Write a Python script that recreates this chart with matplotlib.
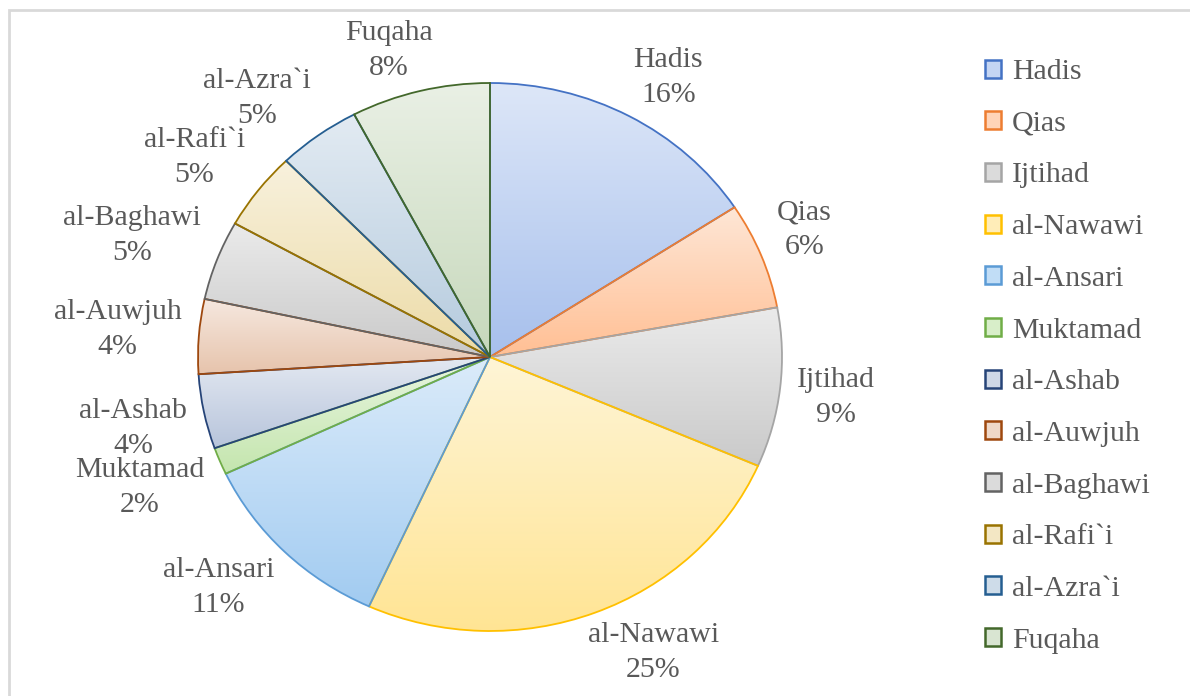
import colorsys
import numpy as np
import matplotlib
matplotlib.use("Agg")
from matplotlib import pyplot as plt
from matplotlib.colors import to_rgb
from matplotlib.patches import Patch, Rectangle

names = ["Hadis", "Qias", "Ijtihad", "al-Nawawi", "al-Ansari", "Muktamad",
         "al-Ashab", "al-Auwjuh", "al-Baghawi", "al-Rafi`i", "al-Azra`i", "Fuqaha"]
shares = [15.8, 6.3, 9.4, 25.3, 11.2, 1.6, 4.4, 4.4, 4.7, 4.6, 4.6, 7.7]
colors = ["#4472C4", "#ED7D31", "#A5A5A5", "#FFC000", "#5B9BD5", "#70AD47",
          "#264478", "#9E480E", "#636363", "#997300", "#255E91", "#43682B"]

plt.rcParams['font.family'] = ['Liberation Serif', 'DejaVu Serif']
txt_color = "#595959"
fs = 21.5


def shade(c, light):
    h, l, s = colorsys.rgb_to_hls(*to_rgb(c))
    # bright accents get a saturated gradient, the darker ones a muted one
    k = 1.25 if l > 0.4 else 0.65
    return np.array(colorsys.hls_to_rgb(h, light, min(1.0, s * k)))


fig = plt.figure(figsize=(11.9, 6.96), dpi=100)
# chart area border
fig.patches.append(Rectangle((9 / 1190, -0.1), 1.2, 1 - 10 / 696 + 0.1,
                             transform=fig.transFigure, fill=False,
                             edgecolor="#d9d9d9", linewidth=2))

# pie is slightly stretched horizontally in the reference
lim = 1.4
rx, ry = 292, 274
cx, cy = 490, 696 - 357
ax = fig.add_axes([(cx - rx * lim) / 1190, (cy - ry * lim) / 696,
                   2 * rx * lim / 1190, 2 * ry * lim / 696])

wedges, _ = ax.pie(shares, startangle=90, counterclock=False,
                   wedgeprops=dict(linewidth=1.3))
ax.set_aspect('auto')
ax.axis('off')

grad = np.linspace(0, 1, 256)[:, None, None]
for w, c in zip(wedges, colors):
    w.set_facecolor("none")
    w.set_edgecolor(c)
    w.set_zorder(3)
    verts = w.get_patch_transform().transform(w.get_path().vertices)
    x0, x1 = verts[:, 0].min(), verts[:, 0].max()
    y0, y1 = verts[:, 1].min(), verts[:, 1].max()
    top, bot = shade(c, 0.92), shade(c, 0.79)
    # row 0 is the bottom of the wedge
    img = bot[None, None, :] * (1 - grad) + top[None, None, :] * grad
    im = ax.imshow(img, extent=[x0, x1, y0, y1], origin='lower', aspect='auto',
                   zorder=2, interpolation='bilinear')
    im.set_clip_path(w)

ax.set_xlim(-lim, lim)
ax.set_ylim(-lim, lim)

labels = []
for w, n, s in zip(wedges, names, shares):
    t = ax.text(0, 0, f"{n}\n{round(s):d}%", ha='center', va='center',
                fontsize=fs, color=txt_color, linespacing=1.45)
    labels.append(t)

fig.canvas.draw()
inv = ax.transData.inverted()
for w, t in zip(wedges, labels):
    mid = np.deg2rad((w.theta1 + w.theta2) / 2)
    ca, sa = np.cos(mid), np.sin(mid)
    bb = t.get_window_extent().transformed(inv)
    hw, hh = bb.width / 2, bb.height / 2
    g = 1.06
    t.set_position((g * ca + hw * np.tanh(3 * ca),
                    g * sa + 0.8 * hh * np.tanh(3 * sa)))

handles = [Patch(facecolor=shade(c, 0.86), edgecolor=c, linewidth=1.8) for c in colors]
leg = fig.legend(handles, names, loc='center left', bbox_to_anchor=(958 / 1190, 0.488),
                 frameon=False, fontsize=fs, handlelength=0.55, handleheight=0.55,
                 handletextpad=0.35, labelspacing=0.86, labelcolor=txt_color)

fig.savefig("out.png", dpi=100)
